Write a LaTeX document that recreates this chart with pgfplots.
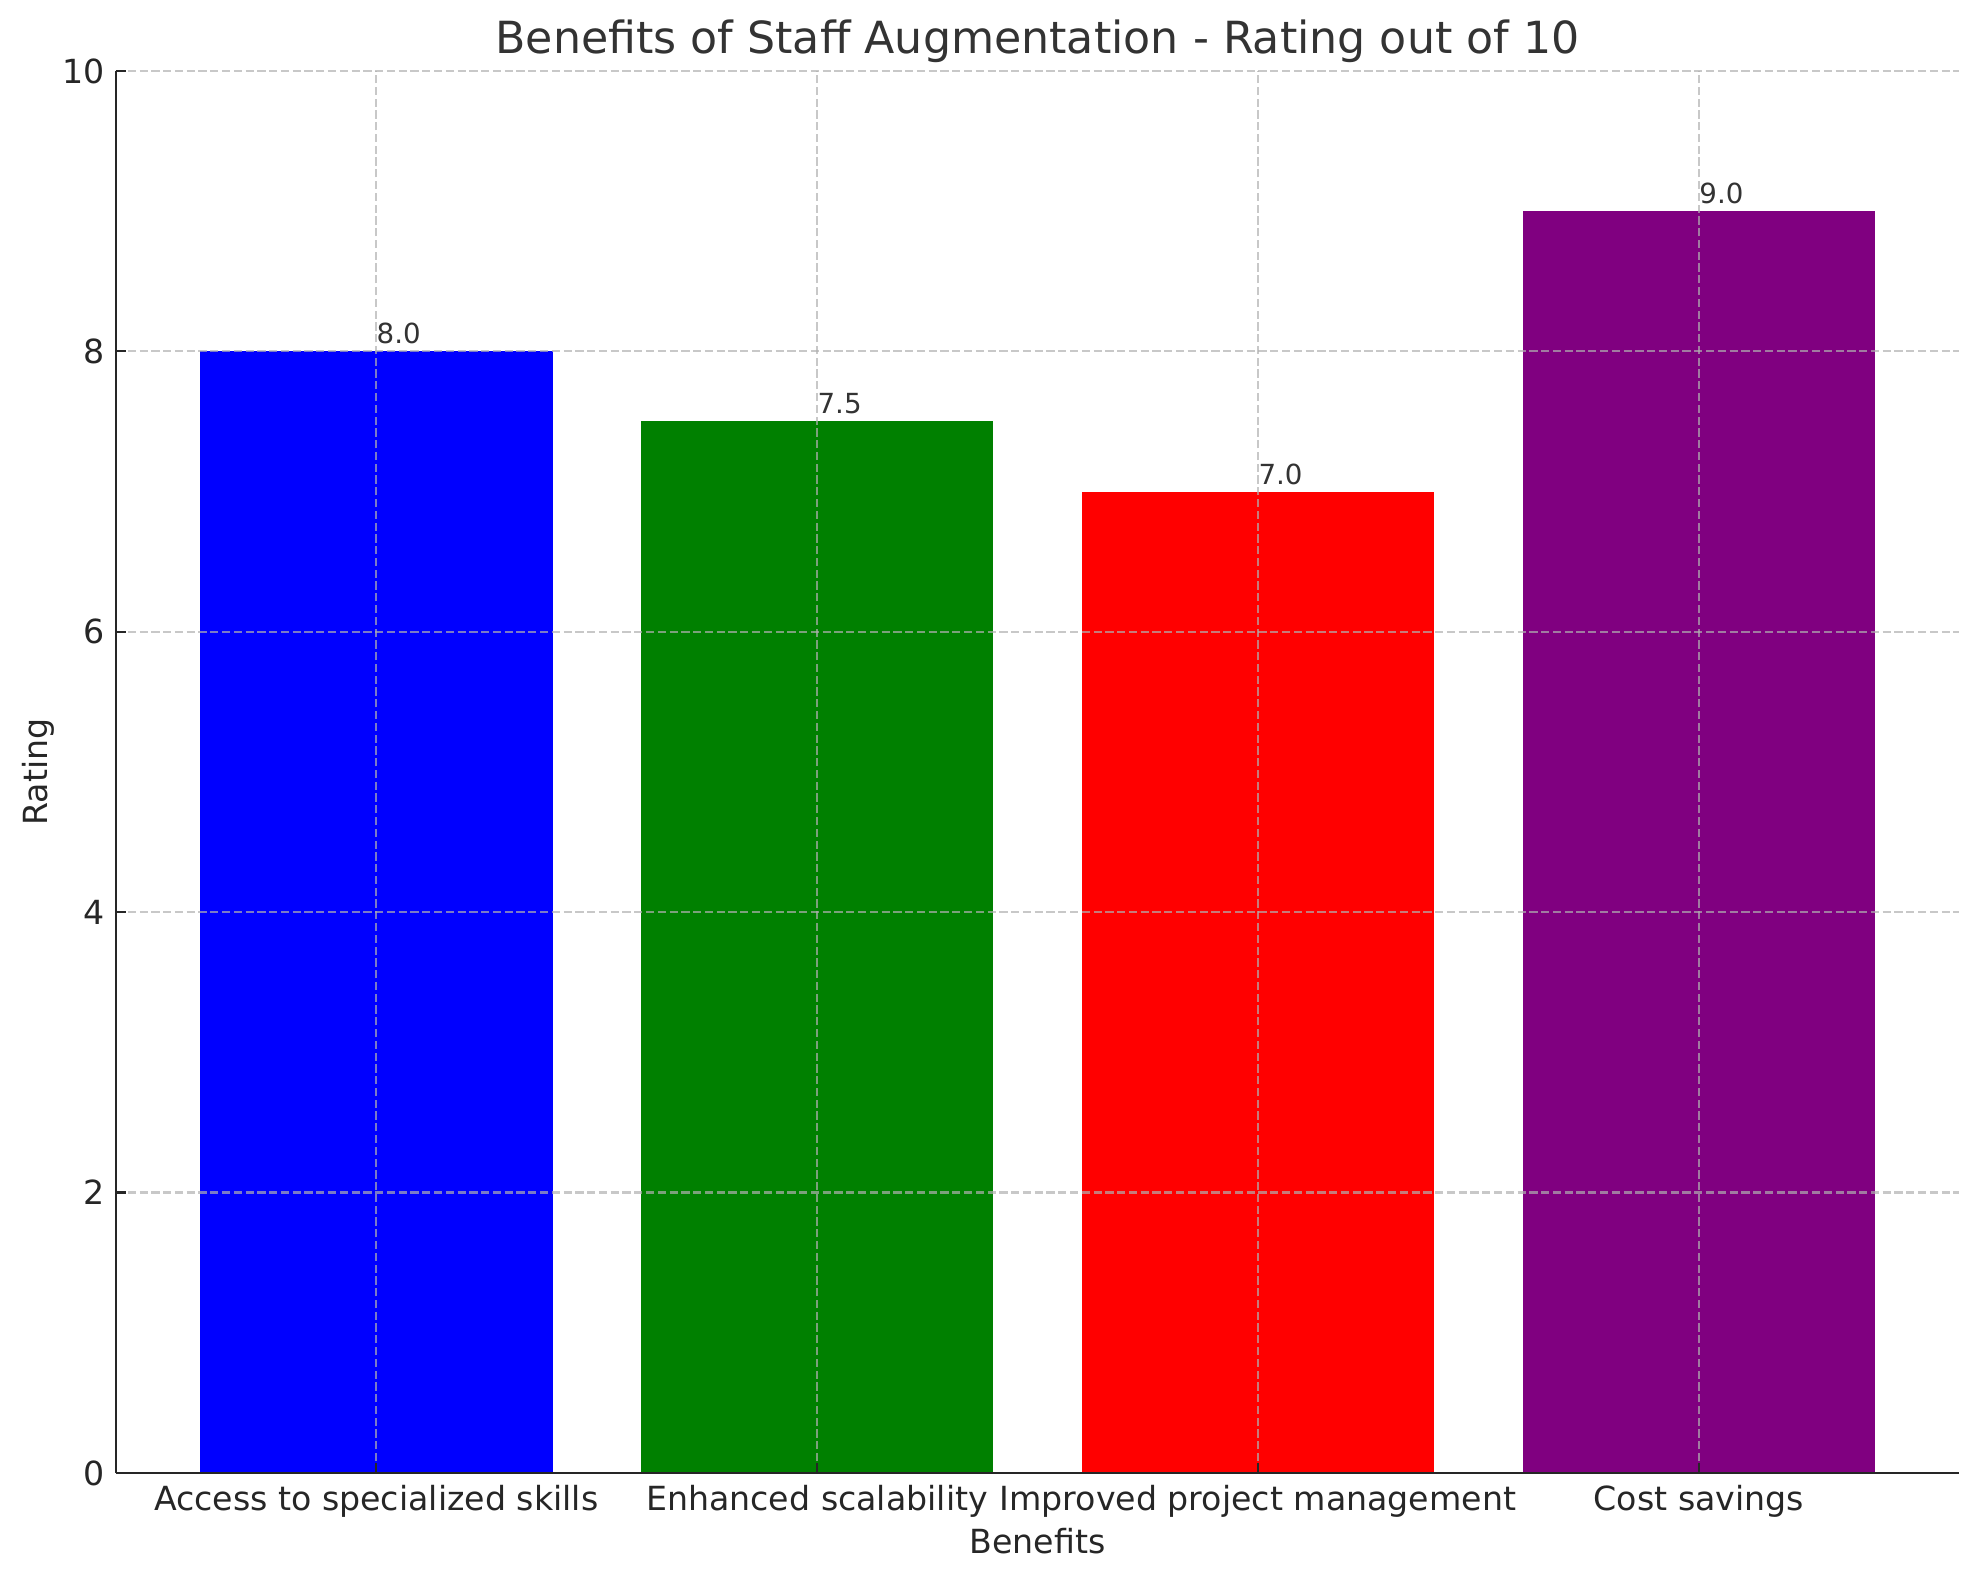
\documentclass[border=0pt]{standalone}
\usepackage{fontspec}
\setmainfont{DejaVu Sans}
\usepackage{pgfplots}
\pgfplotsset{compat=1.18}
\definecolor{gridc}{HTML}{B0B0B0}
\definecolor{txt}{HTML}{262626}
\definecolor{ttl}{HTML}{333333}
\definecolor{mblue}{HTML}{0000FF}
\definecolor{mgreen}{HTML}{008000}
\definecolor{mred}{HTML}{FF0000}
\definecolor{mpurple}{HTML}{800080}
\begin{document}
\begin{tikzpicture}
\begin{axis}[
  at={(0,0)}, anchor=south west,
  scale only axis, width=663.48bp, height=504.72bp,
  xmin=-0.59, xmax=3.59, ymin=0, ymax=10,
  xtick={0,1,2,3},
  xticklabels={Access to specialized skills, Enhanced scalability, Improved project management, Cost savings},
  ytick={0,2,4,6,8,10},
  /pgf/number format/assume math mode=true,
  axis x line*=bottom, axis y line*=left,
  tick align=inside, major tick length=3.5bp,
  tick style={line width=0.8bp, color=txt},
  axis line style={line width=0.8bp, color=txt},
  grid=major,
  major grid style={gridc, opacity=0.7, line width=0.8bp, dash pattern=on 2.96bp off 1.28bp},
  axis on top,
  xticklabel style={anchor=base, inner sep=0pt, yshift=-13.4bp, font=\fontsize{12}{14.4}\selectfont, color=txt},
  yticklabel style={anchor=east, inner sep=0pt, xshift=-3.9bp, font=\fontsize{12}{14.4}\selectfont, color=txt},
  title={Benefits of Staff Augmentation - Rating out of 10},
  title style={at={(axis description cs:0.5,1)}, anchor=base, yshift=0.4bp, font=\fontsize{16}{19.2}\selectfont, color=ttl},
  xlabel={Benefits},
  xlabel style={at={(axis description cs:0.5,0)}, anchor=base, yshift=-28.8bp, font=\fontsize{12}{14.4}\selectfont, color=txt},
  ylabel={Rating},
  ylabel style={at={(axis description cs:-0.0369,0.5)}, anchor=base, font=\fontsize{12}{14.4}\selectfont, color=txt},
  point meta=explicit symbolic,
  nodes near coords,
  every node near coord/.append style={anchor=base west, inner sep=0pt, yshift=2.7bp, font=\fontsize{10}{12}\selectfont, color=ttl},
]
\addplot[ybar, bar width=0.8, fill=mblue, draw=none] coordinates {(0,8.0) [8.0]};
\addplot[ybar, bar width=0.8, fill=mgreen, draw=none] coordinates {(1,7.5) [7.5]};
\addplot[ybar, bar width=0.8, fill=mred, draw=none] coordinates {(2,7.0) [7.0]};
\addplot[ybar, bar width=0.8, fill=mpurple, draw=none] coordinates {(3,9.0) [9.0]};
\end{axis}
\pgfresetboundingbox
\path[use as bounding box] (-41.76bp,-38.52bp) rectangle (670.68bp,530.28bp);
\end{tikzpicture}
\end{document}
